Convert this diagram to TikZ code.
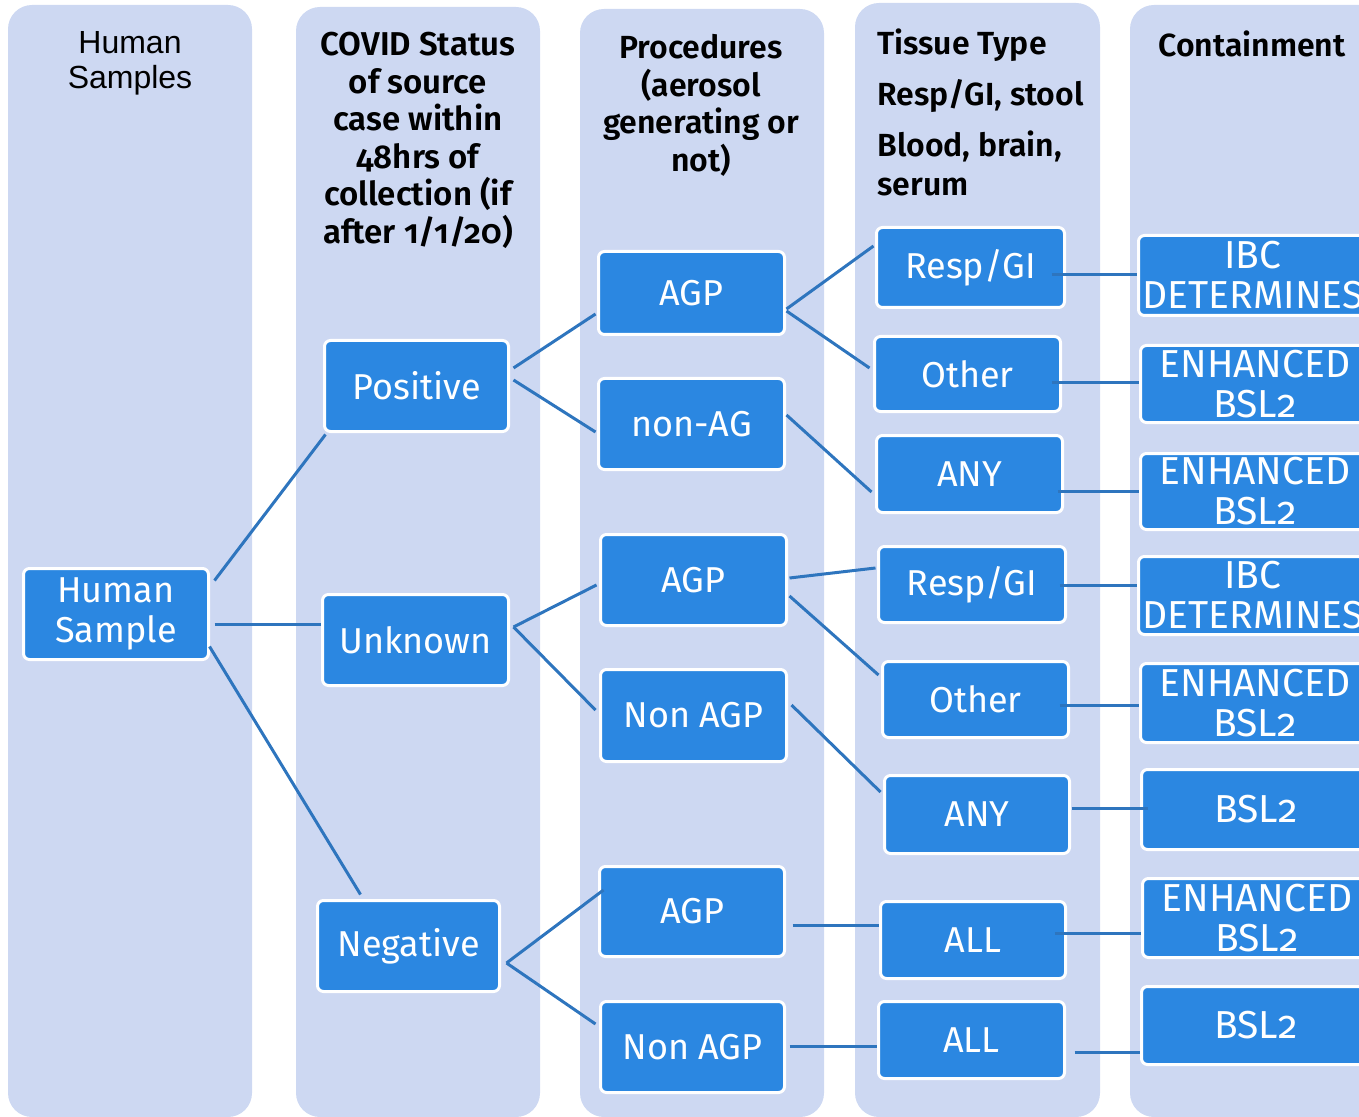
\documentclass[tikz,border=0pt]{standalone}
\usepackage{fontspec}
\setmainfont{Fira Sans}[Numbers=OldStyle]
\newfontfamily\hdrfont{Fira Sans SemiBold}[Numbers=OldStyle]
\newfontfamily\arialfont{Liberation Sans}
\usetikzlibrary{calc}
\definecolor{colbg}{RGB}{205,216,242}
\definecolor{boxblue}{RGB}{43,135,225}
\definecolor{linkblue}{RGB}{46,117,190}
\begin{document}
\begin{tikzpicture}[x=0.5pt,y=-0.5pt,
  colbox/.style={fill=colbg, rounded corners=12pt},
  bx/.style 2 args={draw=white, line width=1.5pt, fill=boxblue, rounded corners=3pt,
    text=white, align=center, inner sep=0pt, minimum width=#1pt, minimum height=#2pt,
    font=\fontsize{18}{20}\selectfont},
  cbx/.style={font=\fontsize{19.5}{20}\selectfont},
  lnk/.style={draw=linkblue, line width=1.5pt},
  hdr/.style={font=\hdrfont\fontsize{16}{18.75}\selectfont, align=center, inner sep=0pt, anchor=north}
]
\useasboundingbox (0,0) rectangle (1359,1117);
\clip (0,0) rectangle (1359,1117);
% columns
\fill[colbox] (8,5) rectangle (252,1117);
\fill[colbox] (296,7) rectangle (540,1117);
\fill[colbox] (580,9) rectangle (824,1117);
\fill[colbox] (855,3) rectangle (1100,1117);
\fill[colbox] (1130,5) rectangle (1400,1117);
% headers
\node[hdr, font=\arialfont\fontsize{16}{17.5}\selectfont] (h1) at (130,31) {Human\\Samples};
\node[hdr, font=\hdrfont\fontsize{16.5}{18.75}\selectfont] (h2) at (418,32) {COVID Status\\of source\\case within\\48hrs of\\collection (if\\after 1/1/20)};
\node[hdr] (h3) at (701,34) {Procedures\\(aerosol\\generating or\\not)};
\node[hdr, anchor=north west, align=left, font=\hdrfont\fontsize{16}{19.5}\selectfont] (h4) at (877,28) {Tissue Type\\[6pt]Resp/GI, stool\\[6pt]Blood, brain,\\serum};
\node[hdr] (h5) at (1252,30) {Containment};
% level 1
\node[bx={92.5}{45.5}] (hs) at (116,614) {Human\\Sample};
% level 2
\node[bx={92}{45.5}] (pos) at (416.5,386) {Positive};
\node[bx={93}{45.5}] (unk) at (415.5,640) {Unknown};
\node[bx={91}{45.5}] (neg) at (408.5,946) {Negative};
% level 3
\node[bx={93}{41.5}] (agp1) at (691.5,293) {AGP};
\node[bx={93}{45.5}] (nag) at (691.5,424) {non-AG};
\node[bx={93}{45.5}] (agp2) at (693.5,580) {AGP};
\node[bx={93}{46}] (nagp1) at (693.5,715.5) {Non AGP};
\node[bx={92.5}{45}] (agp3) at (692,911.5) {AGP};
\node[bx={92}{45.5}] (nagp2) at (692.5,1047) {Non AGP};
% level 4
\node[bx={94}{40}] (resp1) at (970.5,267.5) {Resp/GI};
\node[bx={93}{37.5}] (oth1) at (967.5,374) {Other};
\node[bx={93}{38.5}] (any1) at (969.5,474) {ANY};
\node[bx={93.5}{38}] (resp2) at (972,584.5) {Resp/GI};
\node[bx={93}{38}] (oth2) at (975.5,699.5) {Other};
\node[bx={92.5}{39}] (any2) at (977,814.5) {ANY};
\node[bx={92.5}{38.5}] (all1) at (973,940) {ALL};
\node[bx={93}{38.5}] (all2) at (971.5,1040) {ALL};
% level 5
\node[bx={114.5}{40}, cbx] (ibc1) at (1253,275.5) {IBC\\DETERMINES};
\node[bx={114.5}{38.5}, cbx] (enh1) at (1255,384) {ENHANCED\\BSL2};
\node[bx={114.5}{38}, cbx] (enh2) at (1255,491.5) {ENHANCED\\BSL2};
\node[bx={114.5}{39}, cbx] (ibc2) at (1253,595.5) {IBC\\DETERMINES};
\node[bx={114.5}{39.5}, cbx] (enh3) at (1255,703) {ENHANCED\\BSL2};
\node[bx={114.5}{40}, cbx] (bsl1) at (1256,809.5) {BSL2};
\node[bx={114.5}{39.5}, cbx] (enh4) at (1257,918) {ENHANCED\\BSL2};
\node[bx={114.5}{39}, cbx] (bsl2) at (1256,1025.5) {BSL2};
% connectors level 1-2
\draw[lnk] ($(hs.north east)+(4.5,13.5)$) -- ($(pos.south west)+(2.5,1.5)$);
\draw[lnk] ($(hs.east)+(4.5,10)$) coordinate (c1) -- (c1 -| unk.west);
\draw[lnk] ($(hs.south east)+(-0.5,-14.5)$) -- ($(neg.north west)+(44.5,-4.5)$);
% level 2-3
\draw[lnk] ($(pos.east)+(3.5,-18)$) -- ($(agp1.west)+(-1.5,21)$);
\draw[lnk] ($(pos.east)+(3.5,-6)$) -- ($(nag.west)+(-1.5,8)$);
\draw[lnk] ($(unk.east)+(3.5,-13)$) -- ($(agp2.west)+(-2.5,5)$);
\draw[lnk] ($(unk.east)+(3.5,-13)$) -- ($(nagp1.west)+(-3.5,-5.5)$);
\draw[lnk] ($(neg.east)+(5.5,17)$) -- ($(agp3.west)+(5.5,-21.5)$);
\draw[lnk] ($(neg.east)+(5.5,17)$) -- ($(nagp2.west)+(-3.5,-23)$);
% level 3-4
\draw[lnk] ($(agp1.east)+(0.5,16)$) -- ($(resp1.west)+(-1.5,-21.5)$);
\draw[lnk] ($(agp1.east)+(0.5,18)$) -- ($(oth1.west)+(-3.5,-6)$);
\draw[lnk] ($(nag.east)+(0.5,-9)$) -- ($(any1.west)+(-3.5,18)$);
\draw[lnk] ($(agp2.east)+(1.5,-2)$) -- ($(resp2.west)+(-1.5,-16.5)$);
\draw[lnk] ($(agp2.east)+(1.5,16)$) -- ($(oth2.west)+(-2.5,-24.5)$);
\draw[lnk] ($(nagp1.east)+(3.5,-10.5)$) -- ($(any2.west)+(-2.5,-22.5)$);
\draw[lnk] ($(agp3.east)+(6.5,13.5)$) coordinate (c2) -- (c2 -| all1.west);
\draw[lnk] ($(nagp2.east)+(3.5,-1)$) coordinate (c3) -- (c3 -| all2.west);
% level 4-5
\draw[lnk] ($(resp1.east)+(-14.5,7.5)$) coordinate (d1) -- (d1 -| ibc1.west);
\draw[lnk] ($(oth1.east)+(-10.5,9)$) coordinate (d2) -- (d2 -| enh1.west);
\draw[lnk] ($(any1.east)+(-6.5,17)$) coordinate (d3) -- (d3 -| enh2.west);
\draw[lnk] ($(resp2.east)+(-7.5,0.5)$) coordinate (d4) -- (d4 -| ibc2.west);
\draw[lnk] ($(oth2.east)+(-10.5,5.5)$) coordinate (d5) -- (d5 -| enh3.west);
\draw[lnk] ($(any2.east)+(0.5,-6.5)$) coordinate (d6) -- ($(d6 -| bsl1.west)+(8,0)$);
\draw[lnk] ($(all1.east)+(-12.5,-7)$) coordinate (d7) -- (d7 -| enh4.west);
\draw[lnk] ($(all2.east)+(8.5,12)$) coordinate (d8) -- (d8 -| bsl2.west);
\end{tikzpicture}
\end{document}
